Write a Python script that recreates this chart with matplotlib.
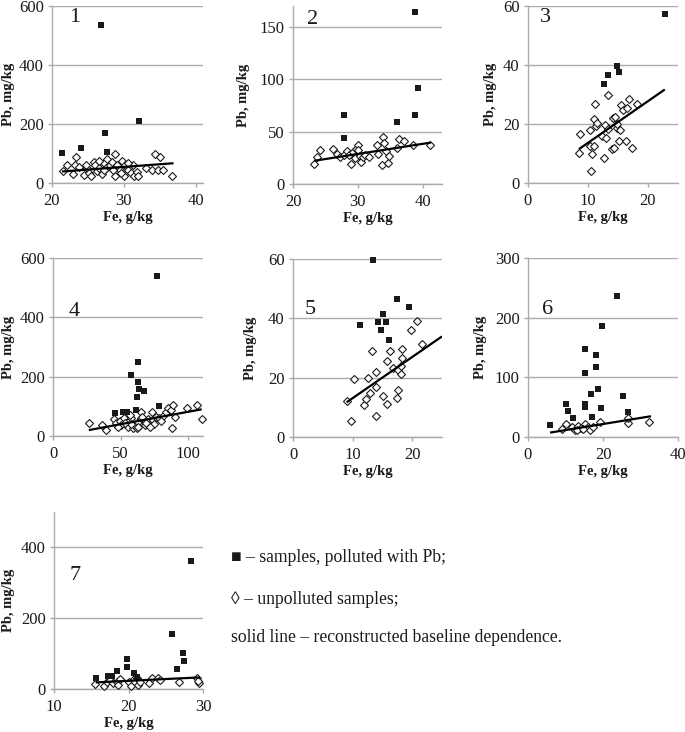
import matplotlib
matplotlib.use("Agg")
import matplotlib.pyplot as plt

# ---------------- data ----------------
# Panel 1
p1_fe_pol = [26.8, 21.4, 24.1, 27.4, 27.7, 32.1]
p1_pb_pol = [537, 101, 117, 169, 105, 211]
p1_fe_cln = [23.4, 22.1, 22.9, 21.5, 23.2, 23.8, 24.5, 24.8, 25.2, 25.4, 25.8, 26.0, 26.2, 26.6,
             26.9, 27.3, 27.5, 27.7, 28.1, 28.3, 28.8, 28.8, 29.1, 29.4, 29.8, 30.0, 30.1, 30.6,
             31.0, 31.3, 31.4, 31.8, 32.0, 33.1, 33.9, 34.3, 35.0, 34.7, 35.5, 36.7, 26.5, 27.2,
             24.7, 29.6, 30.5, 28.5]
p1_pb_cln = [87, 60, 31, 39, 60, 53, 28, 51, 34, 25, 70, 60, 39, 51,
             31, 67, 51, 81, 62, 70, 99, 25, 60, 45, 73, 25, 60, 45,
             34, 60, 25, 36, 25, 51, 45, 99, 88, 43, 43, 25, 76, 43,
             62, 34, 67, 45]
p1_line_fe = [21.4, 36.9]
p1_line_pb = [39, 67]

# Panel 2
p2_fe_pol = [38.9, 39.3, 38.9, 27.9, 27.9, 36.0]
p2_pb_pol = [164, 92, 66, 66, 44, 59]
p2_fe_cln = [23.3, 23.7, 24.2, 26.1, 26.8, 27.3, 27.8, 28.3, 28.6, 29.0, 29.3, 29.6, 29.8, 30.0,
             30.1, 30.3, 30.5, 30.8, 31.1, 31.7, 33.0, 33.1, 33.7, 33.9, 34.1, 34.4, 34.6, 34.8,
             36.0, 36.3, 37.2, 38.6, 41.2]
p2_pb_cln = [19, 26, 32, 33, 29, 25.7, 27.9, 31.1, 27.9, 19.3, 30.1, 24.7, 33.3, 37.4,
             32.0, 27.0, 20.6, 25.7, 27.9, 25.7, 37.4, 28.9, 18.4, 44.7, 39.0, 31.1, 20.0, 26.3,
             34.3, 42.8, 41.5, 37.4, 37.4]
p2_line_fe = [23.3, 41.3]
p2_line_pb = [22.2, 39.6]

# Panel 3
p3_fe_pol = [22.8, 12.7, 13.3, 14.8, 15.2]
p3_pb_pol = [57.2, 33.5, 36.6, 39.7, 37.7]
p3_fe_cln = [8.5, 8.7, 10.4, 10.4, 10.6, 10.5, 11.0, 11.0, 11.1, 11.3, 11.5, 12.4, 12.7, 12.8,
             13.0, 13.4, 13.4, 14.0, 14.1, 14.4, 14.5, 14.9, 15.2, 15.3, 15.5, 15.8, 16.3, 16.5,
             16.9, 17.4, 18.2, 14.9]
p3_pb_cln = [10.1, 16.5, 17.8, 12.4, 9.9, 4.2, 12.7, 21.6, 26.7, 19.4, 20.3, 16.0, 8.4, 19.7,
             15.2, 29.8, 18.2, 11.5, 22.0, 11.8, 22.3, 18.6, 14.1, 17.8, 26.5, 24.8, 14.1, 25.3,
             28.5, 11.8, 26.7, 20.0]
p3_line_fe = [8.5, 22.8]
p3_line_pb = [11.5, 31.7]

# Panel 4
p4_fe_pol = [77.1, 62.7, 57.5, 62.7, 63.9, 67.3, 61.9, 78.6, 61.2, 45.9, 51.6, 54.5]
p4_pb_pol = [538, 249, 207, 181, 158, 153, 133, 102, 88, 77, 80, 80]
p4_fe_cln = [26.8, 36.6, 39.5, 45.2, 46.9, 49.4, 50.6, 52.5, 53.8, 55.5, 56.2, 57.7, 59.0, 60.1,
             61.9, 63.1, 65.3, 65.3, 67.8, 70.2, 71.5, 73.4, 73.9, 76.4, 78.8, 81.3, 83.7, 85.0,
             87.4, 88.1, 88.6, 90.6, 99.2, 106.3, 110.0, 58.0, 48.0, 53.0, 63.0, 69.0, 75.0,
             80.0, 72.0, 66.0, 57.0]
p4_pb_cln = [45, 37, 20, 56, 43, 52, 37, 60, 43, 32, 51, 60, 26, 37,
             26, 48, 82, 60, 37, 56, 37, 82, 54, 63, 60, 69, 82, 94,
             88, 28, 105, 65, 96, 105, 57, 40, 30, 45, 30, 45, 40,
             50, 30, 65, 70]
p4_line_fe = [26.5, 110]
p4_line_pb = [20, 90]

# Panel 5
p5_fe_pol = [13.4, 17.5, 19.4, 15.1, 14.2, 15.6, 11.2, 14.7, 16.1]
p5_pb_pol = [59.5, 46.5, 43.7, 41.5, 38.9, 38.9, 37.8, 36.1, 32.7]
p5_fe_cln = [9.0, 9.7, 10.3, 11.9, 12.2, 12.5, 12.9, 13.3, 13.9, 14.0, 14.0, 15.1, 15.7, 15.7,
             16.3, 16.8, 17.4, 17.6, 17.6, 18.2, 18.2, 18.3, 18.3, 19.8, 20.8, 21.7]
p5_pb_cln = [12.0, 5.3, 19.5, 10.9, 12.8, 19.9, 15.0, 29.0, 7.2, 21.8, 16.7, 13.7, 11.1, 25.7,
             29.0, 23.2, 13.0, 15.9, 22.7, 23.8, 21.2, 29.8, 26.6, 36.1, 39.1, 31.4]
p5_line_fe = [9.0, 25.0]
p5_line_pb = [11.7, 33.9]

# Panel 6
p6_fe_pol = [23.6, 19.6, 15.3, 18.0, 18.0, 15.3, 18.7, 25.2, 16.9, 10.2, 15.3, 15.1, 19.4, 10.7,
             26.7, 11.9, 17.1, 5.8]
p6_pb_pol = [235.6, 186.8, 147.5, 137.4, 117.8, 107.7, 80.2, 68.4, 71.8, 56.1, 55.0, 50.5, 49.4,
             43.2, 42.1, 32.5, 33.7, 19.6]
p6_fe_cln = [10.0, 9.0, 11.6, 12.5, 13.2, 14.1, 15.2, 16.1, 16.5, 17.4, 19.2, 26.6, 26.6, 32.3,
             13.0, 14.7]
p6_pb_cln = [22.5, 14, 17, 11, 18.5, 15, 22.5, 17, 12.5, 17, 25, 23.6, 32, 25, 11, 14]
p6_line_fe = [5.9, 32.8]
p6_line_pb = [7.4, 34.8]

# Panel 7
p7_fe_pol = [28.4, 25.9, 27.3, 27.4, 26.5, 19.8, 19.8, 20.7, 18.5, 17.8, 17.3, 15.7, 21.1]
p7_pb_pol = [362.5, 156.4, 102.1, 78.7, 55.3, 84.3, 62.8, 44.0, 51.5, 37.5, 37.5, 30.0, 34.7]
p7_fe_cln = [15.5, 16.7, 17.1, 17.5, 17.9, 18.4, 18.6, 18.8, 20.1, 20.3, 20.7, 20.9, 21.1, 21.3,
             21.6, 22.7, 23.1, 24.0, 24.2, 26.8, 29.2, 29.5, 29.3]
p7_pb_cln = [13.1, 8.4, 20.6, 25.3, 15.9, 20.6, 11.2, 28.1, 20.6, 8.4, 27.2, 18.7, 31.9, 11.2,
             20.6, 17.8, 30.0, 30.0, 25.3, 20.6, 30.0, 17.8, 23.4]
p7_line_fe = [15.6, 29.6]
p7_line_pb = [18.7, 32.8]

panel_labels = ["1", "2", "3", "4", "5", "6", "7"]
x_label = "Fe, g/kg"
y_label = "Pb, mg/kg"
legend_lines = ["\u25a0 \u2013 samples, polluted with Pb;",
                "\u25ca \u2013 unpolluted samples;",
                "solid line \u2013 reconstructed baseline dependence."]

panels = [
    (p1_fe_pol, p1_pb_pol, p1_fe_cln, p1_pb_cln, p1_line_fe, p1_line_pb),
    (p2_fe_pol, p2_pb_pol, p2_fe_cln, p2_pb_cln, p2_line_fe, p2_line_pb),
    (p3_fe_pol, p3_pb_pol, p3_fe_cln, p3_pb_cln, p3_line_fe, p3_line_pb),
    (p4_fe_pol, p4_pb_pol, p4_fe_cln, p4_pb_cln, p4_line_fe, p4_line_pb),
    (p5_fe_pol, p5_pb_pol, p5_fe_cln, p5_pb_cln, p5_line_fe, p5_line_pb),
    (p6_fe_pol, p6_pb_pol, p6_fe_cln, p6_pb_cln, p6_line_fe, p6_line_pb),
    (p7_fe_pol, p7_pb_pol, p7_fe_cln, p7_pb_cln, p7_line_fe, p7_line_pb),
]

# ---------------- layout / style ----------------
W, H = 685, 732
serif = ["Liberation Serif", "DejaVu Serif"]
plt.rcParams["font.family"] = serif

# pixel boxes: left, right, top, bottom
boxes = [(52, 203, 6, 183), (293, 442, 6, 184), (528, 678, 6, 183),
         (53, 203, 258, 436), (293, 442, 259, 437), (528, 678, 258, 437),
         (54, 203, 512, 689)]
xlims = [(20, 41), (20, 43), (0, 25), (0, 111), (0, 25), (0, 40), (10, 30)]
ylims = [(0, 600), (0, 170), (0, 60), (0, 600), (0, 60), (0, 300), (0, 500)]
xticks = [[20, 30, 40], [20, 30, 40], [0, 10, 20], [0, 50, 100], [0, 10, 20], [0, 20, 40], [10, 20, 30]]
yticks = [[0, 200, 400, 600], [0, 50, 100, 150], [0, 20, 40, 60], [0, 200, 400, 600],
          [0, 20, 40, 60], [0, 100, 200, 300], [0, 200, 400]]
num_pos = [(75, 18), (313, 20), (545, 18), (74, 311), (310, 310), (548, 310), (75, 576)]
ylab_x = [8, 243, 490, 8, 250, 480, 8]

grid_c = "#ababab"
dark = "#1a1a1a"

fig = plt.figure(figsize=(W / 100, H / 100), dpi=100)

for i, (fp, pp, fc, pc, lf, lp) in enumerate(panels):
    l, r, t, b = boxes[i]
    ax = fig.add_axes([l / W, 1 - b / H, (r - l) / W, (b - t) / H])
    ax.set_xlim(*xlims[i])
    ax.set_ylim(*ylims[i])
    ax.set_xticks(xticks[i])
    ax.set_yticks(yticks[i])
    ax.grid(axis="y", color=grid_c, lw=1.0)
    ax.set_axisbelow(True)
    for s in ["top", "right"]:
        ax.spines[s].set_visible(False)
    for s in ["left", "bottom"]:
        ax.spines[s].set_color(grid_c)
        ax.spines[s].set_linewidth(1.0)
    ax.tick_params(colors=grid_c, labelcolor=dark, labelsize=12, length=3, width=1)
    ax.tick_params(axis="x", pad=4)
    ax.tick_params(axis="y", pad=3)
    ax.plot(fc, pc, linestyle="none", marker="D", ms=3.8, mfc="white", mec=dark, mew=0.8,
            zorder=3, clip_on=False)
    ax.plot(fp, pp, linestyle="none", marker="s", ms=4.4, mfc=dark, mec=dark, mew=0,
            zorder=4, clip_on=False)
    ax.plot(lf, lp, color="black", lw=1.6, zorder=5, solid_capstyle="butt")
    ax.set_xlabel(x_label, fontsize=10.5, fontweight="bold", color=dark)
    ax.set_ylabel(y_label, fontsize=10.5, fontweight="bold", color=dark)
    ax.xaxis.set_label_coords(((l + r) / 2) / W, 1 - (b + 28) / H, transform=fig.transFigure)
    ax.yaxis.set_label_coords((ylab_x[i] + 7) / W, 1 - ((t + b) / 2) / H, transform=fig.transFigure)
    nx, ny = num_pos[i]
    fig.text(nx / W, 1 - ny / H, panel_labels[i], fontsize=16, color=dark, ha="center", va="center")

legend_y = [557, 599, 638]
for txt, y in zip(legend_lines, legend_y):
    fig.text(231 / W, 1 - y / H, txt, fontsize=12.7, color=dark, ha="left", va="center")

fig.savefig("out.png", dpi=100)
